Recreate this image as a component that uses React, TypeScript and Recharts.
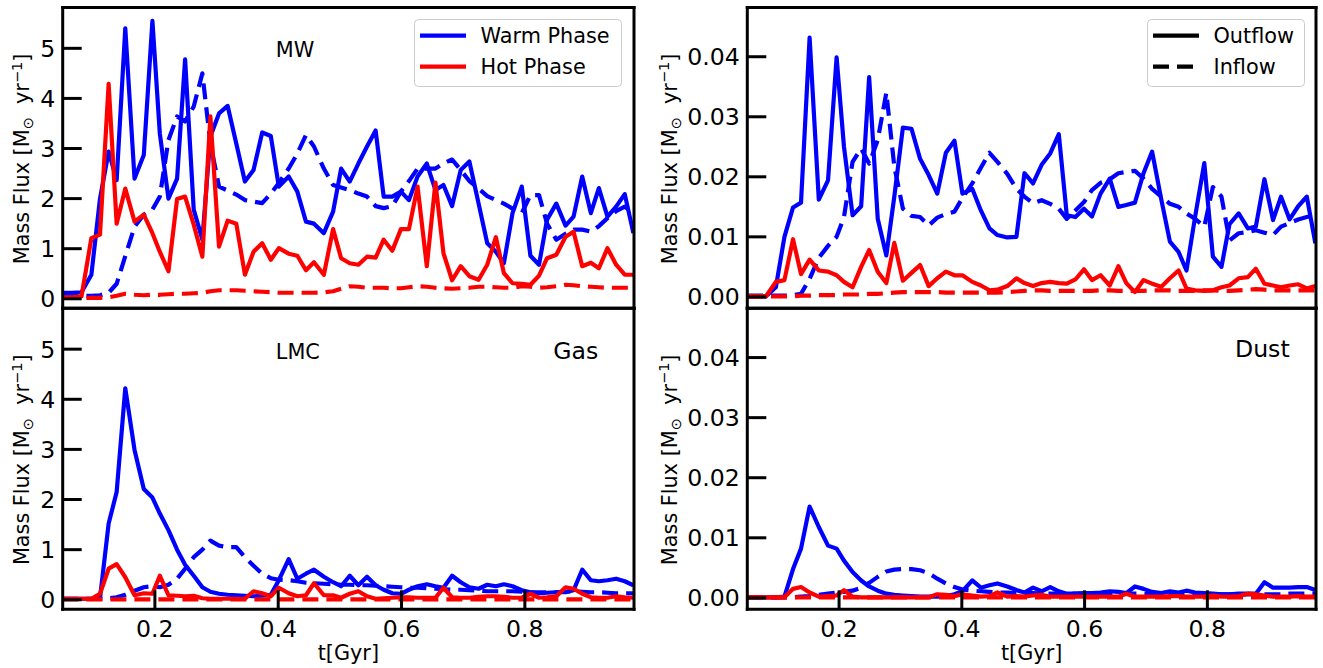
import React from 'react';
import { LineChart, Line, XAxis, YAxis, Legend, Customized } from 'recharts';

// ---------- data ----------
const time = [
  0.050, 0.065, 0.081, 0.097, 0.111, 0.125, 0.138, 0.152, 0.167, 0.182,
  0.196, 0.208, 0.222, 0.236, 0.249, 0.263, 0.277, 0.290, 0.304, 0.318,
  0.332, 0.346, 0.360, 0.374, 0.388, 0.401, 0.417, 0.431, 0.445, 0.458,
  0.474, 0.489, 0.502, 0.516, 0.530, 0.544, 0.558, 0.571, 0.585, 0.599,
  0.612, 0.626, 0.641, 0.655, 0.668, 0.682, 0.696, 0.710, 0.725, 0.739,
  0.753, 0.766, 0.780, 0.795, 0.809, 0.823, 0.836, 0.851, 0.866, 0.879,
  0.893, 0.907, 0.920, 0.934, 0.948, 0.962, 0.976,
];

// MW gas
const mwGasWarmOut = [
  0.12, 0.12, 0.13, 0.48, 2.0, 2.94, 2.37, 5.4, 2.4, 2.87,
  5.55, 3.3, 2.0, 2.4, 4.78, 1.78, 1.18, 3.24, 3.7, 3.85,
  3.1, 2.34, 2.57, 3.32, 3.25, 2.24, 2.44, 2.14, 1.54, 1.5,
  1.31, 1.74, 2.6, 2.34, 2.7, 3.04, 3.36, 2.04, 2.04, 2.14,
  1.97, 2.44, 2.7, 2.17, 2.27, 1.85, 2.57, 2.74, 1.9, 1.11,
  0.94, 0.71, 1.71, 2.24, 0.86, 0.68, 1.58, 1.9, 1.46, 1.64,
  2.44, 1.71, 2.21, 1.64, 1.84, 2.09, 1.31,
];
const mwGasWarmIn = [
  0.06, 0.06, 0.06, 0.06, 0.07, 0.12, 0.3, 0.85, 1.44, 1.68,
  1.78, 2.04, 3.17, 3.64, 3.54, 3.84, 4.5, 3.1, 2.24, 2.16,
  2.08, 1.97, 1.94, 1.91, 2.1, 2.31, 2.6, 2.9, 3.27, 3.04,
  2.6, 2.27, 2.22, 2.17, 2.1, 2.04, 1.85, 1.81, 1.85, 2.14,
  2.35, 2.6, 2.6, 2.6, 2.7, 2.78, 2.57, 2.35, 2.2, 2.05,
  1.97, 1.9, 1.8, 1.71, 2.07, 2.07, 1.5, 1.18, 1.3, 1.38,
  1.38, 1.34, 1.45, 1.61, 1.75, 1.84, 1.71,
];
const mwGasHotOut = [
  0.03, 0.03, 0.05, 1.21, 1.28, 4.29, 1.5, 2.2, 1.54, 1.68,
  1.31, 0.94, 0.55, 1.99, 2.04, 1.48, 0.84, 3.64, 1.04, 1.56,
  1.5, 0.48, 0.94, 1.11, 0.78, 1.01, 0.9, 0.86, 0.57, 0.73,
  0.48, 1.39, 0.81, 0.71, 0.68, 0.84, 0.82, 1.18, 0.96, 1.39,
  1.39, 2.24, 0.65, 2.32, 0.91, 0.37, 0.65, 0.45, 0.38, 0.68,
  1.23, 0.51, 0.31, 0.3, 0.28, 0.46, 0.81, 0.88, 1.24, 1.34,
  0.65, 0.72, 0.61, 1.01, 0.68, 0.48, 0.48,
];
const mwGasHotIn = [
  0.02, 0.02, 0.02, 0.02, 0.02, 0.03, 0.06, 0.1, 0.08, 0.07,
  0.08, 0.08, 0.09, 0.1, 0.1, 0.11, 0.12, 0.15, 0.17, 0.17,
  0.17, 0.16, 0.15, 0.14, 0.13, 0.12, 0.12, 0.12, 0.12, 0.12,
  0.13, 0.15, 0.2, 0.25, 0.24, 0.22, 0.22, 0.22, 0.21, 0.21,
  0.23, 0.25, 0.24, 0.22, 0.21, 0.2, 0.21, 0.22, 0.24, 0.24,
  0.23, 0.22, 0.22, 0.25, 0.24, 0.22, 0.23, 0.25, 0.28, 0.27,
  0.25, 0.24, 0.23, 0.22, 0.22, 0.22, 0.22,
];

// MW dust
const mwDustWarmOut = [
  0.0001, 0.0001, 0.0001, 0.0016, 0.010, 0.0149, 0.0157, 0.0432, 0.0162, 0.0194,
  0.0399, 0.025, 0.0136, 0.0151, 0.0366, 0.013, 0.0069, 0.0167, 0.0282, 0.028,
  0.023, 0.0203, 0.0172, 0.024, 0.026, 0.0172, 0.018, 0.0144, 0.0114, 0.0103,
  0.0099, 0.01, 0.0206, 0.0189, 0.022, 0.0239, 0.0271, 0.0136, 0.0133, 0.0147,
  0.0134, 0.0172, 0.0197, 0.015, 0.0153, 0.0157, 0.0206, 0.0242, 0.0162, 0.0092,
  0.0075, 0.0044, 0.0133, 0.0223, 0.0067, 0.005, 0.0121, 0.0139, 0.0114, 0.0117,
  0.0196, 0.0128, 0.0167, 0.0129, 0.0151, 0.0167, 0.0089,
];
const mwDustWarmIn = [
  0.0002, 0.0002, 0.0002, 0.0002, 0.0002, 0.0003, 0.0005, 0.003, 0.0065, 0.0085,
  0.010, 0.0133, 0.0225, 0.0247, 0.0222, 0.0261, 0.034, 0.0217, 0.0147, 0.0135,
  0.0133, 0.0119, 0.0132, 0.0138, 0.0142, 0.0165, 0.0189, 0.0215, 0.024, 0.0225,
  0.0205, 0.018, 0.0167, 0.0156, 0.0161, 0.0155, 0.0147, 0.013, 0.0144, 0.0158,
  0.0178, 0.019, 0.0196, 0.0206, 0.0208, 0.021, 0.0197, 0.018, 0.0167, 0.0155,
  0.015, 0.0139, 0.013, 0.0117, 0.0183, 0.0167, 0.0094, 0.0106, 0.0108, 0.0111,
  0.0107, 0.0103, 0.0117, 0.0123, 0.0129, 0.0133, 0.0136,
];
const mwDustHotOut = [
  0.0001, 0.0001, 0.0001, 0.0025, 0.0028, 0.0096, 0.0038, 0.0062, 0.0044, 0.0042,
  0.0036, 0.0025, 0.0016, 0.005, 0.0078, 0.0042, 0.0023, 0.009, 0.0027, 0.004,
  0.0053, 0.0018, 0.0031, 0.0042, 0.0036, 0.0036, 0.0025, 0.0019, 0.0011, 0.0012,
  0.0018, 0.0031, 0.0023, 0.0018, 0.0023, 0.0025, 0.0023, 0.0022, 0.0029, 0.0046,
  0.0028, 0.0036, 0.0019, 0.0051, 0.0023, 0.0008, 0.0028, 0.0022, 0.0017, 0.0031,
  0.0044, 0.0014, 0.0011, 0.001, 0.0011, 0.0016, 0.0019, 0.0031, 0.0033, 0.0047,
  0.0022, 0.0019, 0.0016, 0.0019, 0.0021, 0.0014, 0.0018,
];
const mwDustHotIn = [
  0.0001, 0.0001, 0.0001, 0.0001, 0.0001, 0.0001, 0.0002, 0.0002, 0.0003, 0.0003,
  0.0003, 0.0004, 0.0004, 0.0004, 0.0005, 0.0005, 0.0006, 0.0007, 0.0008, 0.0008,
  0.0008, 0.0008, 0.0008, 0.0007, 0.0007, 0.0007, 0.0007, 0.0007, 0.0007, 0.0007,
  0.0008, 0.0009, 0.001, 0.0011, 0.0011, 0.001, 0.001, 0.001, 0.001, 0.001,
  0.001, 0.0011, 0.0011, 0.001, 0.001, 0.001, 0.001, 0.0011, 0.0011, 0.0011,
  0.001, 0.001, 0.001, 0.0011, 0.0011, 0.001, 0.001, 0.0011, 0.0012, 0.0013,
  0.0012, 0.0011, 0.0011, 0.0011, 0.0011, 0.0011, 0.0011,
];

// LMC gas
const lmcGasWarmOut = [
  0.02, 0.02, 0.02, 0.02, 0.03, 1.52, 2.15, 4.22, 2.99, 2.21,
  2.04, 1.72, 1.39, 1.0, 0.7, 0.48, 0.25, 0.16, 0.12, 0.1,
  0.09, 0.08, 0.07, 0.08, 0.1, 0.39, 0.81, 0.42, 0.52, 0.6,
  0.46, 0.35, 0.27, 0.48, 0.29, 0.46, 0.29, 0.2, 0.13, 0.12,
  0.2, 0.27, 0.31, 0.27, 0.24, 0.48, 0.35, 0.25, 0.22, 0.3,
  0.27, 0.31, 0.27, 0.19, 0.15, 0.13, 0.14, 0.15, 0.15, 0.19,
  0.6, 0.39, 0.37, 0.39, 0.42, 0.37, 0.29,
];
const lmcGasWarmIn = [
  0.02, 0.02, 0.02, 0.02, 0.02, 0.03, 0.05, 0.1, 0.18, 0.25,
  0.27, 0.25, 0.3, 0.42, 0.62, 0.85, 1.0, 1.18, 1.08, 1.05,
  1.05, 0.85, 0.68, 0.52, 0.43, 0.4, 0.39, 0.37, 0.34, 0.33,
  0.32, 0.31, 0.3, 0.3, 0.29, 0.29, 0.28, 0.27, 0.26, 0.25,
  0.24, 0.24, 0.23, 0.22, 0.21, 0.2, 0.2, 0.19, 0.18, 0.17,
  0.17, 0.17, 0.17, 0.16, 0.15, 0.15, 0.15, 0.15, 0.16, 0.17,
  0.16, 0.15, 0.15, 0.14, 0.13, 0.13, 0.13,
];
const lmcGasHotOut = [
  0.02, 0.02, 0.02, 0.02, 0.12, 0.62, 0.71, 0.45, 0.09, 0.13,
  0.12, 0.48, 0.09, 0.08, 0.07, 0.08, 0.03, 0.02, 0.02, 0.02,
  0.02, 0.02, 0.17, 0.13, 0.07, 0.24, 0.13, 0.07, 0.09, 0.33,
  0.09, 0.09, 0.04, 0.12, 0.17, 0.07, 0.02, 0.03, 0.04, 0.05,
  0.05, 0.04, 0.04, 0.04, 0.24, 0.05, 0.04, 0.04, 0.06, 0.07,
  0.07, 0.06, 0.04, 0.04, 0.12, 0.04, 0.05, 0.07, 0.25, 0.22,
  0.12, 0.05, 0.04, 0.04, 0.07, 0.05, 0.04,
];
const lmcGasHotIn = [
  0.01, 0.01, 0.01, 0.01, 0.01, 0.01, 0.01, 0.01, 0.01, 0.01,
  0.01, 0.01, 0.01, 0.01, 0.01, 0.01, 0.01, 0.01, 0.01, 0.01,
  0.01, 0.01, 0.01, 0.01, 0.01, 0.01, 0.01, 0.01, 0.01, 0.01,
  0.01, 0.01, 0.01, 0.01, 0.01, 0.01, 0.01, 0.01, 0.01, 0.01,
  0.01, 0.01, 0.01, 0.01, 0.01, 0.01, 0.01, 0.01, 0.01, 0.01,
  0.01, 0.01, 0.01, 0.01, 0.01, 0.01, 0.01, 0.01, 0.01, 0.01,
  0.01, 0.01, 0.01, 0.01, 0.01, 0.01, 0.01,
];

// LMC dust
const lmcDustWarmOut = [
  0.0001, 0.0001, 0.0001, 0.0001, 0.0002, 0.0048, 0.0082, 0.0152, 0.0118, 0.0087,
  0.0082, 0.0062, 0.0043, 0.0029, 0.0019, 0.0012, 0.0007, 0.0005, 0.0004, 0.0003,
  0.0002, 0.0002, 0.0002, 0.0003, 0.0006, 0.0011, 0.0029, 0.0017, 0.0021, 0.0024,
  0.0019, 0.0013, 0.0009, 0.0017, 0.0011, 0.0018, 0.0011, 0.0007, 0.0007, 0.0008,
  0.0008, 0.0009, 0.0011, 0.001, 0.0008, 0.0019, 0.0015, 0.001, 0.0008, 0.0011,
  0.0009, 0.0012, 0.0009, 0.0008, 0.0007, 0.0006, 0.0006, 0.0007, 0.0007, 0.0007,
  0.0026, 0.0017, 0.0017, 0.0017, 0.0018, 0.0018, 0.0013,
];
const lmcDustWarmIn = [
  0.0001, 0.0001, 0.0001, 0.0001, 0.0001, 0.0001, 0.0002, 0.0003, 0.0005, 0.0007,
  0.0009, 0.001, 0.0012, 0.0017, 0.0025, 0.0035, 0.0044, 0.0047, 0.0048, 0.0048,
  0.0046, 0.0041, 0.0032, 0.0024, 0.0018, 0.0014, 0.0012, 0.0011, 0.001, 0.0009,
  0.0009, 0.0008, 0.0008, 0.0008, 0.0007, 0.0007, 0.0007, 0.0007, 0.0007, 0.0007,
  0.0007, 0.0007, 0.0007, 0.0007, 0.0007, 0.0007, 0.0007, 0.0006, 0.0006, 0.0006,
  0.0006, 0.0006, 0.0006, 0.0006, 0.0006, 0.0006, 0.0006, 0.0006, 0.0006, 0.0006,
  0.0006, 0.0006, 0.0006, 0.0007, 0.0007, 0.0007, 0.0007,
];
const lmcDustHotOut = [
  0.0001, 0.0001, 0.0001, 0.0001, 0.0001, 0.0015, 0.0018, 0.0009, 0.0002, 0.0003,
  0.0004, 0.0013, 0.0002, 0.0001, 0.0001, 0.0001, 0.0001, 0.0001, 0.0001, 0.0001,
  0.0001, 0.0001, 0.0006, 0.0005, 0.0003, 0.0006, 0.0004, 0.0002, 0.0003, 0.0009,
  0.0002, 0.0003, 0.0002, 0.0004, 0.0005, 0.0002, 0.0002, 0.0002, 0.0002, 0.0002,
  0.0002, 0.0002, 0.0002, 0.0002, 0.0007, 0.0002, 0.0002, 0.0002, 0.0002, 0.0003,
  0.0003, 0.0002, 0.0002, 0.0002, 0.0004, 0.0002, 0.0002, 0.0003, 0.0007, 0.0006,
  0.0004, 0.0002, 0.0002, 0.0002, 0.0003, 0.0002, 0.0002,
];
const lmcDustHotIn = [
  0.0001, 0.0001, 0.0001, 0.0001, 0.0001, 0.0001, 0.0001, 0.0001, 0.0001, 0.0001,
  0.0001, 0.0001, 0.0001, 0.0001, 0.0001, 0.0001, 0.0001, 0.0001, 0.0001, 0.0001,
  0.0001, 0.0001, 0.0001, 0.0001, 0.0001, 0.0001, 0.0001, 0.0001, 0.0001, 0.0001,
  0.0001, 0.0001, 0.0001, 0.0001, 0.0001, 0.0001, 0.0001, 0.0001, 0.0001, 0.0001,
  0.0001, 0.0001, 0.0001, 0.0001, 0.0001, 0.0001, 0.0001, 0.0001, 0.0001, 0.0001,
  0.0001, 0.0001, 0.0001, 0.0001, 0.0001, 0.0001, 0.0001, 0.0001, 0.0001, 0.0001,
  0.0001, 0.0001, 0.0001, 0.0001, 0.0001, 0.0001, 0.0001,
];

// axis settings
const xTicks = [0.2, 0.4, 0.6, 0.8];
const xDomain = [0.0505, 0.977];
const gasTicks = [0, 1, 2, 3, 4, 5];
const gasDomain = [-0.19, 5.815];
const dustTicks = [0, 0.01, 0.02, 0.03, 0.04];
const dustDomain = [-0.0019, 0.0482];

// ---------- styling ----------
const W = 1323;
const H = 668;
const FONT = "'DejaVu Sans', sans-serif";
const BLUE = '#0000ff';
const RED = '#ff0000';
const LW = 4.2;
const DASH = '16 8';
const TICK_FS = 23.6;
const LABEL_FS = 20.8;
const AX = 1; // thickness reserved for each axis band

function buildRows(wo: number[], wi: number[], ho: number[], hi: number[]) {
  return time.map((t, i) => ({ t, wo: wo[i], wi: wi[i], ho: ho[i], hi: hi[i] }));
}

type Item = { label: string; color: string; dash?: string };

function LegendBox({ items, width }: { items: Item[]; width: number }) {
  const h = 68;
  return (
    <svg width={width} height={h} style={{ display: 'block', overflow: 'visible' }}>
      <rect x={0.5} y={0.5} width={width - 1} height={h - 1} rx={4} ry={4}
        fill="#ffffff" fillOpacity={0.8} stroke="#cccccc" strokeWidth={1} />
      {items.map((it, i) => {
        const cy = 16.7 + i * 31;
        return (
          <g key={it.label}>
            <line x1={6} x2={52} y1={cy} y2={cy} stroke={it.color} strokeWidth={LW}
              strokeDasharray={it.dash} />
            <text x={66.5} y={cy + 7.6} fontFamily={FONT} fontSize={LABEL_FS} fill="#000">
              {it.label}
            </text>
          </g>
        );
      })}
    </svg>
  );
}

function YLabel({ x, y }: { x: number; y: number }) {
  return (
    <text x={x} y={y} transform={`rotate(-90 ${x} ${y})`} textAnchor="middle"
      fontFamily={FONT} fontSize={LABEL_FS} fill="#000" style={{ whiteSpace: 'pre' }}>
      {'Mass Flux [M'}
      <tspan dy={4} fontSize={14.5}>{'\u2299'}</tspan>
      <tspan dy={-4}>{'\u00a0\u00a0yr'}</tspan>
      <tspan dy={-7.5} fontSize={14.5}>{'\u22121'}</tspan>
      <tspan dy={7.5}>{']'}</tspan>
    </text>
  );
}

type Note = { text: string; x: number; y: number; size: number };

type PanelProps = {
  rows: any[];
  x0: number; x1: number; y0: number; y1: number;
  yDomain: number[]; yTicks: number[]; yFmt: (v: number) => string;
  showX: boolean; yLabelX: number;
  notes: Note[];
  legend?: { items: Item[]; left: number; width: number };
};

function Panel(p: PanelProps) {
  const axisLine = { stroke: '#000', strokeWidth: 3, strokeLinecap: 'square' as const };
  const tickLine = { stroke: '#000', strokeWidth: 3 };
  const tickStyle = { fill: '#000', fontSize: TICK_FS, fontFamily: FONT };
  const cy = (p.y0 + p.y1) / 2 + 1;
  const cx = (p.x0 + p.x1) / 2;
  return (
    <div style={{ position: 'absolute', left: 0, top: 0 }}>
      <LineChart width={W} height={H} data={p.rows}
        margin={{ top: p.y0 - AX, bottom: H - p.y1 - AX, left: p.x0 - AX, right: W - p.x1 - AX }}>
        <Line dataKey="wo" stroke={BLUE} strokeWidth={LW} dot={false} activeDot={false}
          strokeLinejoin="round" isAnimationActive={false} legendType="none" />
        <Line dataKey="wi" stroke={BLUE} strokeWidth={LW} strokeDasharray={DASH} dot={false}
          activeDot={false} strokeLinejoin="round" isAnimationActive={false} legendType="none" />
        <Line dataKey="ho" stroke={RED} strokeWidth={LW} dot={false} activeDot={false}
          strokeLinejoin="round" isAnimationActive={false} legendType="none" />
        <Line dataKey="hi" stroke={RED} strokeWidth={LW} strokeDasharray={DASH} dot={false}
          activeDot={false} strokeLinejoin="round" isAnimationActive={false} legendType="none" />
        <XAxis dataKey="t" type="number" domain={xDomain} ticks={xTicks} allowDataOverflow
          interval={0} height={AX} tickSize={-19} tickMargin={30}
          axisLine={axisLine} tickLine={tickLine}
          tick={p.showX ? tickStyle : false}
          label={p.showX ? {
            content: () => (
              <text x={cx} y={660} textAnchor="middle" fontFamily={FONT} fontSize={LABEL_FS} fill="#000">
                t[Gyr]
              </text>
            ),
          } : undefined} />
        <XAxis xAxisId="top" orientation="top" dataKey="t" type="number" domain={xDomain}
          ticks={xTicks} allowDataOverflow interval={0} height={AX} tickSize={-19}
          axisLine={axisLine} tickLine={tickLine} tick={false} />
        <YAxis type="number" domain={p.yDomain} ticks={p.yTicks} allowDataOverflow interval={0}
          width={AX} tickSize={-19} tickMargin={26.5} axisLine={axisLine} tickLine={tickLine}
          tick={tickStyle} tickFormatter={p.yFmt}
          label={{ content: () => <YLabel x={p.yLabelX} y={cy} /> }} />
        <YAxis yAxisId="right" orientation="right" type="number" domain={p.yDomain}
          ticks={p.yTicks} allowDataOverflow interval={0} width={AX} tickSize={-19}
          axisLine={axisLine} tickLine={tickLine} tick={false} />
        <Customized component={() => (
          <g>
            {p.notes.map((n) => (
              <text key={n.text} x={n.x} y={n.y} fontFamily={FONT} fontSize={n.size} fill="#000">
                {n.text}
              </text>
            ))}
          </g>
        )} />
        {p.legend ? (
          <Legend layout="vertical" align="center" verticalAlign="middle"
            wrapperStyle={{ left: p.legend.left, top: 19, width: p.legend.width, height: 68 }}
            content={() => <LegendBox items={p.legend!.items} width={p.legend!.width} />} />
        ) : null}
      </LineChart>
    </div>
  );
}

const fmtGas = (v: number) => String(v);
const fmtDust = (v: number) => v.toFixed(2);

export default function App() {
  const mwGas = buildRows(mwGasWarmOut, mwGasWarmIn, mwGasHotOut, mwGasHotIn);
  const lmcGas = buildRows(lmcGasWarmOut, lmcGasWarmIn, lmcGasHotOut, lmcGasHotIn);
  const mwDust = buildRows(mwDustWarmOut, mwDustWarmIn, mwDustHotOut, mwDustHotIn);
  const lmcDust = buildRows(lmcDustWarmOut, lmcDustWarmIn, lmcDustHotOut, lmcDustHotIn);
  return (
    <div style={{ position: 'absolute', left: 0, top: 0, width: W, height: H, background: '#fff' }}>
      <Panel rows={mwGas} x0={62.7} x1={634} y0={7.5} y1={308.3}
        yDomain={gasDomain} yTicks={gasTicks} yFmt={fmtGas} showX={false} yLabelX={29.3}
        notes={[{ text: 'MW', x: 275.8, y: 57.3, size: LABEL_FS }]}
        legend={{
          left: 414, width: 208, items: [
            { label: 'Warm Phase', color: BLUE },
            { label: 'Hot Phase', color: RED },
          ],
        }} />
      <Panel rows={lmcGas} x0={62.7} x1={634} y0={308.3} y1={609.3}
        yDomain={gasDomain} yTicks={gasTicks} yFmt={fmtGas} showX={true} yLabelX={29.3}
        notes={[
          { text: 'LMC', x: 275.8, y: 359, size: LABEL_FS },
          { text: 'Gas', x: 553.3, y: 359, size: TICK_FS },
        ]} />
      <Panel rows={mwDust} x0={747.3} x1={1316} y0={7.5} y1={308.3}
        yDomain={dustDomain} yTicks={dustTicks} yFmt={fmtDust} showX={false} yLabelX={676.7}
        notes={[]}
        legend={{
          left: 1147, width: 158, items: [
            { label: 'Outflow', color: '#000' },
            { label: 'Inflow', color: '#000', dash: DASH },
          ],
        }} />
      <Panel rows={lmcDust} x0={747.3} x1={1316} y0={308.3} y1={609.3}
        yDomain={dustDomain} yTicks={dustTicks} yFmt={fmtDust} showX={true} yLabelX={676.7}
        notes={[{ text: 'Dust', x: 1235, y: 357.3, size: TICK_FS }]} />
    </div>
  );
}
